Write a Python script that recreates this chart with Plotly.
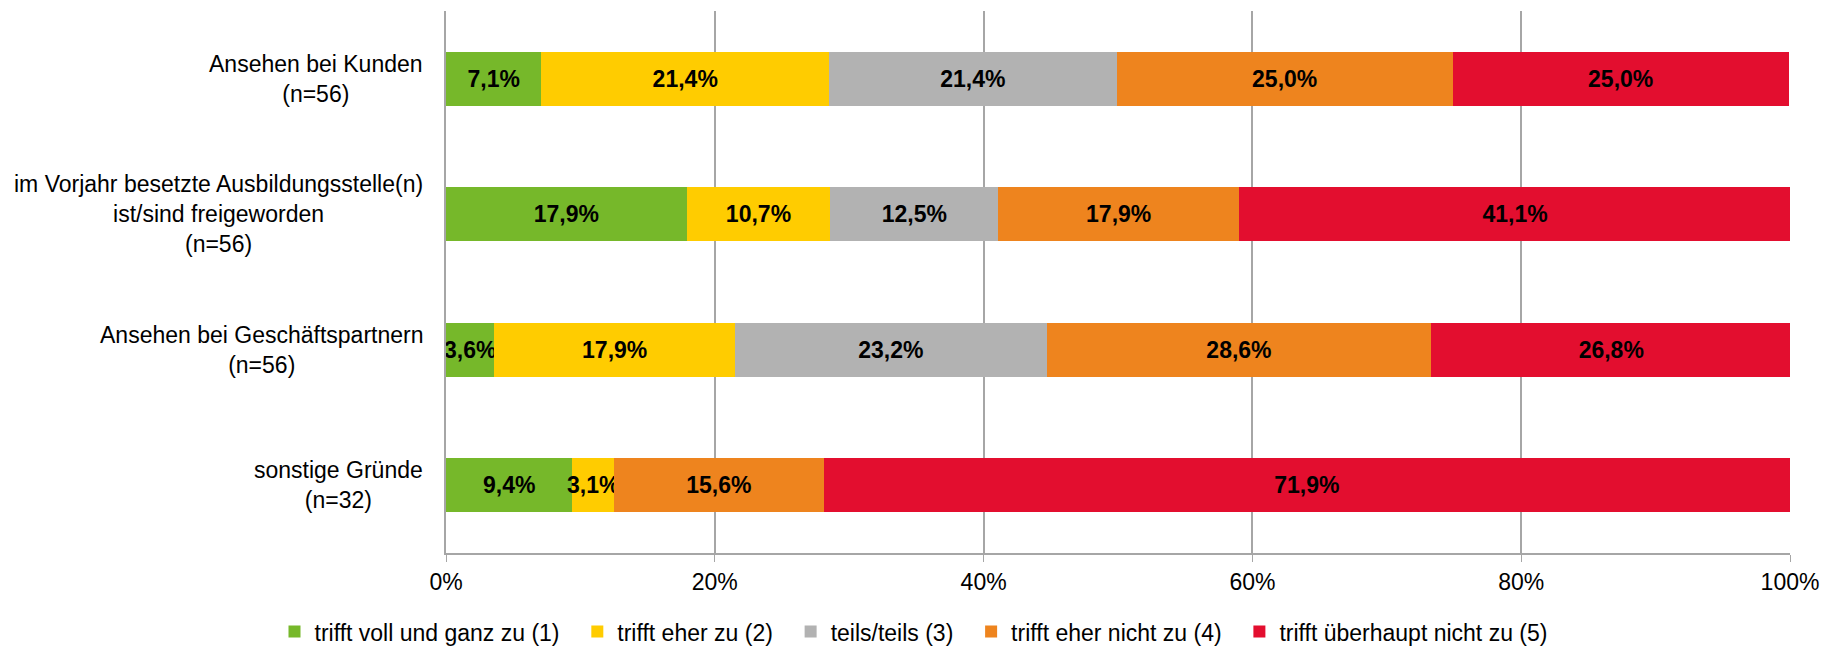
import plotly.graph_objects as go

categories = [
    "Ansehen bei Kunden<br>(n=56)",
    "im Vorjahr besetzte Ausbildungsstelle(n)<br>ist/sind freigeworden<br>(n=56)",
    "Ansehen bei Geschäftspartnern<br>(n=56)",
    "sonstige Gründe<br>(n=32)",
]
series_names = [
    "trifft voll und ganz zu (1)",
    "trifft eher zu (2)",
    "teils/teils (3)",
    "trifft eher nicht zu (4)",
    "trifft überhaupt nicht zu (5)",
]
values = {
    "trifft voll und ganz zu (1)": [7.1, 17.9, 3.6, 9.4],
    "trifft eher zu (2)": [21.4, 10.7, 17.9, 3.1],
    "teils/teils (3)": [21.4, 12.5, 23.2, 0.0],
    "trifft eher nicht zu (4)": [25.0, 17.9, 28.6, 15.6],
    "trifft überhaupt nicht zu (5)": [25.0, 41.1, 26.8, 71.9],
}
colors = ["#76B82A", "#FFCC00", "#B2B2B2", "#EE841E", "#E30E2F"]
x_ticks = [0, 20, 40, 60, 80, 100]
x_ticklabels = ["0%", "20%", "40%", "60%", "80%", "100%"]

FONT = "Liberation Sans, Arial, sans-serif"
FS = 23

fig = go.Figure()
for name, col in zip(series_names, colors):
    vals = values[name]
    labels = [("%.1f%%" % v).replace(".", ",") if v > 0 else "" for v in vals]
    fig.add_trace(go.Bar(
        y=categories, x=vals, name=name + "\u00a0\u00a0", orientation="h",
        marker=dict(color=col, line=dict(width=0)),
        text=labels, textposition="inside", insidetextanchor="middle",
        textangle=0, constraintext="none",
        textfont=dict(family=FONT, size=FS, color="black", weight="bold"),
        hoverinfo="skip",
    ))

# category labels: centred lines, block right-aligned next to the axis
for cat in categories:
    fig.add_annotation(
        x=0, xref="paper", y=cat, yref="y", xanchor="right", yanchor="middle",
        xshift=-21, text=cat, align="center", showarrow=False,
        font=dict(family=FONT, size=FS, color="black"),
    )

fig.update_layout(
    barmode="stack", bargap=0.6,
    width=1840, height=647,
    margin=dict(l=446, r=50, t=11, b=94, autoexpand=False),
    paper_bgcolor="white", plot_bgcolor="white",
    font=dict(family=FONT, size=FS, color="black"),
    showlegend=True,
    legend=dict(orientation="h", xref="container", yref="paper",
                x=0.5, xanchor="center", y=-0.145, yanchor="middle",
                font=dict(family=FONT, size=FS, color="black"),
                traceorder="normal", itemclick=False),
    xaxis=dict(range=[0, 100], tickvals=x_ticks, ticktext=x_ticklabels,
               showgrid=True, gridcolor="#A6A6A6", gridwidth=1.5,
               showline=True, linecolor="#A6A6A6", linewidth=2,
               ticks="outside", ticklen=7, tickcolor="#A6A6A6",
               zeroline=False, tickfont=dict(size=FS), fixedrange=True),
    yaxis=dict(categoryorder="array", categoryarray=categories,
               autorange="reversed", showline=True, linecolor="#A6A6A6",
               linewidth=2, ticks="", showticklabels=False,
               showgrid=False, fixedrange=True),
)

fig.write_html(
    "out.html",
    config={"displayModeBar": False},
    post_script="document.body.style.margin='0';document.body.style.overflow='hidden';",
)
